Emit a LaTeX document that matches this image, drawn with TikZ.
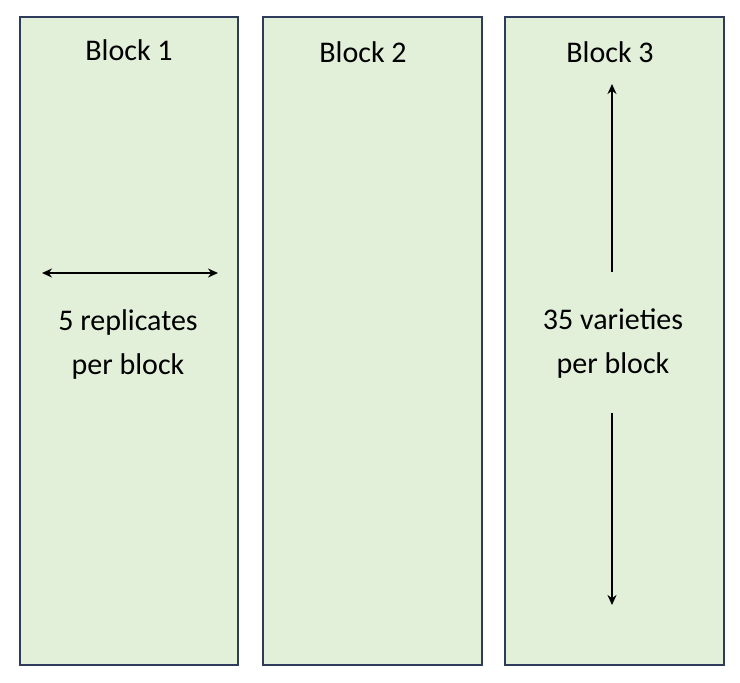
\documentclass[tikz,border=0pt]{standalone}
\usepackage{fontspec}
\setmainfont{Carlito}
\usetikzlibrary{arrows.meta}
\definecolor{blockfill}{HTML}{E2EFD9}
\definecolor{blockline}{HTML}{2F3B5A}
\tikzset{
  block/.style={fill=blockfill, draw=blockline, line width=0.9pt},
  label/.style={font=\fontsize{15}{22}\selectfont, align=center},
  arr/.style={{Stealth[length=5pt,width=4.5pt]}-{Stealth[length=5pt,width=4.5pt]}, line width=1pt},
  uarr/.style={-{Stealth[length=5pt,width=4.5pt]}, line width=1pt}
}
\begin{document}
\begin{tikzpicture}[x=0.5pt,y=-0.5pt]
  \useasboundingbox (0,0) rectangle (740,682);
  \draw[block] (20,17) rectangle (238,665);
  \draw[block] (263,17) rectangle (482,665);
  \draw[block] (505,17) rectangle (724,665);
  \node[label] (b1) at (129,50) {Block 1};
  \node[label] (b2) at (363,52) {Block 2};
  \node[label] (b3) at (610,52) {Block 3};
  % block 1
  \coordinate (repL) at (42,273);
  \coordinate (repR) at (218,273);
  \draw[arr] (repL) -- (repR);
  \node[label] (rep) at (128,344) {5 replicates\\per block};
  % block 3
  \coordinate (varT) at (612,84);
  \coordinate (varA) at (612,272);
  \coordinate (varB) at (612,413);
  \coordinate (varD) at (612,605);
  \draw[uarr] (varA) -- (varT);
  \draw[uarr] (varB) -- (varD);
  \node[label] (var) at (613,344) {35 varieties\\per block};
\end{tikzpicture}
\end{document}
